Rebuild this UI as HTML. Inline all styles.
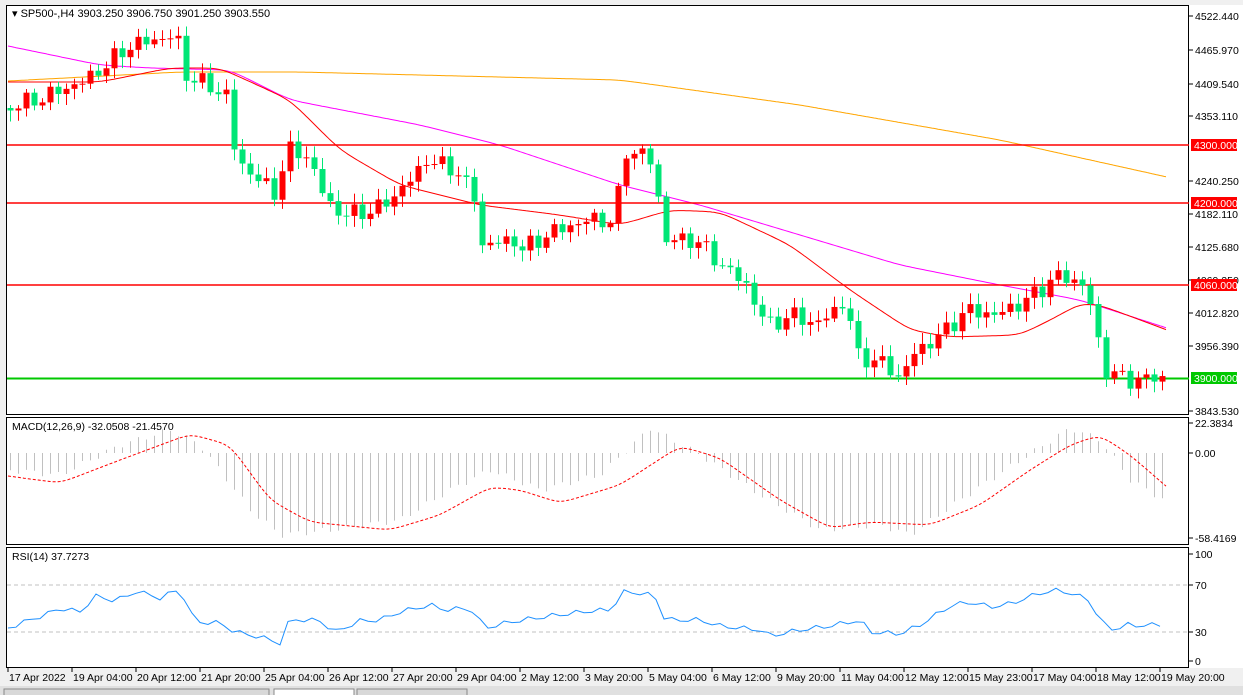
<!DOCTYPE html>
<html><head><meta charset="utf-8"><style>
body{margin:0;width:1243px;height:695px;background:#fff;overflow:hidden;font-family:"Liberation Sans",sans-serif}
svg{position:absolute;left:0;top:0}
</style></head><body>
<svg id="s" width="1243" height="695" xmlns="http://www.w3.org/2000/svg" font-family="Liberation Sans, sans-serif" font-size="10.5"></svg>
<script>
const s=document.getElementById('s');let h='';
function L(pts){return pts.map(p=>p.join(',')).join(' ');}
function interp(k,x){for(let i=0;i<k.length-1;i++){if(x>=k[i][0]&&x<=k[i+1][0]){const t=(x-k[i][0])/(k[i+1][0]-k[i][0]);return k[i][1]+t*(k[i+1][1]-k[i][1]);}}return x<k[0][0]?k[0][1]:k[k.length-1][1];}
function smooth(k,x0,x1,st){let p=[];for(let x=x0;x<=x1;x+=st)p.push([x,interp(k,x).toFixed(1)]);return p;}
function sm(k,n){n=n||40;let p=smooth(k,k[0][0],k[k.length-1][0],2).map(a=>[a[0],+a[1]]);for(let r=0;r<n;r++){let q=p.map((a,i)=>[a[0],i==0||i==p.length-1?a[1]:(p[i-1][1]+a[1]*2+p[i+1][1])/4]);p=q;}return p.map(a=>[a[0],a[1].toFixed(1)]);}
h+='<rect x="0" y="0" width="1243" height="695" fill="#f0f0f0"/>';
h+='<rect x="6" y="5" width="1183" height="663" fill="#fff"/>';
h+='<rect x="6.5" y="5.5" width="1182" height="409" fill="none" stroke="#000"/>';
h+='<rect x="6.5" y="417.5" width="1182" height="127" fill="none" stroke="#000"/>';
h+='<rect x="6.5" y="547.5" width="1182" height="120" fill="none" stroke="#000"/>';
h+='<rect x="1189" y="5" width="54" height="663" fill="#fff"/>';
const orange=[[8,81],[180,72],[300,72],[620,80],[800,105],[1000,140],[1167,177]];
const mag=[[8,46],[100,65],[150,68],[230,70],[290,100],[420,125],[500,145],[620,185],[700,205],[800,235],[900,265],[1000,285],[1080,300],[1167,328]];
const red=[[8,82],[100,82],[170,68],[220,68],[290,100],[340,150],[400,185],[480,205],[560,215],[620,225],[670,210],[720,212],[790,245],[850,290],[910,330],[950,337],[1020,335],[1060,315],[1080,303],[1100,305],[1167,330]];
h+='<polyline points="'+L(sm(orange))+'" fill="none" stroke="#ffa500" stroke-width="1"/>';
h+='<polyline points="'+L(sm(mag))+'" fill="none" stroke="#ff00ff" stroke-width="1"/>';
h+='<polyline points="'+L(sm(red))+'" fill="none" stroke="#ff0000" stroke-width="1"/>';
[145,203,285].forEach(y=>h+='<line x1="7" x2="1189" y1="'+y+'" y2="'+y+'" stroke="#ff0000" stroke-width="1.5"/>');
h+='<line x1="7" x2="1189" y1="378.5" y2="378.5" stroke="#00c800" stroke-width="2"/>';
const cl=[[8,108],[40,100],[90,80],[135,45],[180,35],[190,75],[230,95],[240,160],[280,195],[290,150],[310,155],[330,200],[345,215],[380,210],[410,185],[430,160],[460,170],[480,200],[485,245],[520,240],[525,250],[560,230],[600,218],[620,225],[625,150],[650,155],[660,170],[665,240],[700,240],[720,260],[750,285],[770,325],[800,315],[820,325],[850,300],[860,355],[890,365],[905,380],[915,355],[930,345],[950,330],[970,310],[1000,315],[1030,300],[1050,285],[1060,275],[1090,285],[1100,335],[1110,370],[1130,380],[1160,378]];
let prev=interp(cl,8);
for(let x=10,i=0;x<=1162;x+=8,i++){
 let c=interp(cl,x+4)+Math.sin(i*2.3)*6+Math.cos(i*1.7)*4;
 let o=prev;let top=Math.min(o,c),bot=Math.max(o,c);
 let col=c<o?'#ff0000':'#00e676';
 let hi=top-3-Math.abs(Math.sin(i*3.1))*8,lo=bot+3+Math.abs(Math.cos(i*2.7))*8;
 h+='<line x1="'+(x+0.5)+'" x2="'+(x+0.5)+'" y1="'+hi+'" y2="'+lo+'" stroke="'+col+'"/>';
 h+='<rect x="'+(x-2.5)+'" y="'+top+'" width="6" height="'+Math.max(1,bot-top)+'" fill="'+col+'"/>';
 prev=c;
}
h+='<text x="12" y="17" font-size="11">▾ SP500-,H4  3903.250 3906.750 3901.250 3903.550</text>';
const pl=[[16,'4522.440'],[50,'4465.970'],[84,'4409.540'],[116,'4353.110'],[181,'4240.250'],[214,'4182.110'],[247,'4125.680'],[280,'4069.250'],[313,'4012.820'],[346,'3956.390'],[411,'3843.530']];
pl.forEach(([y,t])=>{h+='<line x1="1189" x2="1193" y1="'+y+'" y2="'+y+'" stroke="#000"/><text x="1195" y="'+(y+4)+'">'+t+'</text>';});
[[145,'4300.000','#ff0000'],[203,'4200.000','#ff0000'],[285,'4060.000','#ff0000'],[378,'3900.000','#00c800']].forEach(([y,t,c])=>{h+='<rect x="1191" y="'+(y-6)+'" width="46" height="12" fill="'+c+'"/><text x="1194" y="'+(y+4)+'" fill="#fff">'+t+'</text>';});
h+='<text x="12" y="430">MACD(12,26,9) -32.0508 -21.4570</text>';
const hist=[[8,470],[60,475],[120,445],[170,430],[200,445],[250,510],[280,535],[330,530],[400,520],[450,490],[490,470],[540,490],[600,475],[650,428],[700,455],[760,495],[820,530],[880,525],[910,535],[960,500],[1020,460],[1070,428],[1100,440],[1130,480],[1167,502]];
for(let x=10,i=0;x<=1166;x+=8,i++){let y=interp(hist,x)+Math.sin(i*1.9)*3;h+='<line x1="'+(x+0.5)+'" x2="'+(x+0.5)+'" y1="453" y2="'+y.toFixed(1)+'" stroke="#c0c0c0"/>';}
const sig=[[8,476],[60,483],[120,460],[190,434],[230,445],[270,500],[310,522],[390,530],[440,515],[490,487],[520,490],[560,503],[620,485],[680,446],[720,458],[780,500],[830,528],[870,522],[930,525],[980,505],[1030,470],[1070,445],[1100,435],[1130,455],[1167,487]];
h+='<polyline points="'+L(sm(sig,25))+'" fill="none" stroke="#ff0000" stroke-dasharray="3,2"/>';
[[423,'22.3834'],[453,'0.00'],[538,'-58.4169']].forEach(([y,t])=>{h+='<line x1="1189" x2="1193" y1="'+y+'" y2="'+y+'" stroke="#000"/><text x="1195" y="'+(y+4)+'">'+t+'</text>';});
h+='<text x="12" y="560">RSI(14) 37.7273</text>';
[585,632].forEach(y=>h+='<line x1="7" x2="1189" y1="'+y+'" y2="'+y+'" stroke="#c0c0c0" stroke-dasharray="4,3"/>');
const rsi=[[8,628],[30,620],[50,613],[60,608],[80,612],[95,596],[110,600],[125,598],[135,591],[160,598],[180,589],[195,622],[220,623],[235,632],[260,637],[280,643],[290,619],[320,621],[335,632],[360,621],[380,620],[400,612],[430,605],[445,610],[470,608],[485,628],[510,622],[550,616],[590,611],[610,610],[625,591],[655,596],[665,620],[700,620],[720,626],[760,630],[770,636],[800,630],[830,626],[860,620],[870,632],[900,634],[920,625],[950,606],[970,602],[990,607],[1010,604],[1040,593],[1060,590],[1090,600],[1100,622],[1115,630],[1130,624],[1140,626],[1167,624]];
let rp=[];for(let x=8,i=0;x<=1167;x+=8,i++)rp.push([x,(interp(rsi,x)+Math.sin(i*2.1)*2.5).toFixed(1)]);
h+='<polyline points="'+L(rp)+'" fill="none" stroke="#1e90ff" stroke-width="1"/>';
[[554,'100'],[585,'70'],[632,'30'],[661,'0']].forEach(([y,t])=>{h+='<line x1="1189" x2="1193" y1="'+y+'" y2="'+y+'" stroke="#000"/><text x="1195" y="'+(y+4)+'">'+t+'</text>';});
const ds=['17 Apr 2022','19 Apr 04:00','20 Apr 12:00','21 Apr 20:00','25 Apr 04:00','26 Apr 12:00','27 Apr 20:00','29 Apr 04:00','2 May 12:00','3 May 20:00','5 May 04:00','6 May 12:00','9 May 20:00','11 May 04:00','12 May 12:00','15 May 23:00','17 May 04:00','18 May 12:00','19 May 20:00'];
ds.forEach((t,i)=>{let x=8+i*64;h+='<line x1="'+x+'" x2="'+x+'" y1="668" y2="672" stroke="#000"/><text x="'+(x+1)+'" y="681">'+t+'</text>';});
h+='<rect x="0" y="686" width="1243" height="9" fill="#e0e0e0"/>';
h+='<rect x="4" y="689" width="265" height="8" fill="#d8d8d8" stroke="#888"/><rect x="274" y="689" width="80" height="8" fill="#fff" stroke="#888"/><rect x="357" y="689" width="110" height="8" fill="#d8d8d8" stroke="#888"/>';
s.innerHTML=h;
</script>
</body></html>
